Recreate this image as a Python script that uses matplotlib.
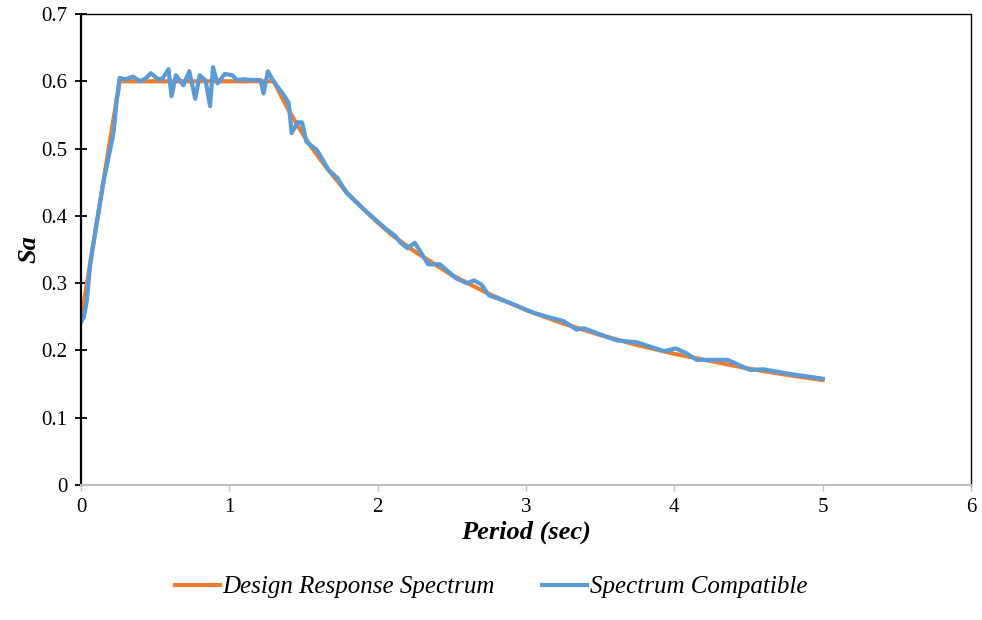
import matplotlib
matplotlib.use("Agg")
import matplotlib.pyplot as plt

plt.rcParams['font.family'] = ['Liberation Serif', 'DejaVu Serif']

# design response spectrum
design_T = [0.0, 0.26, 1.30, 1.35, 1.40, 1.45, 1.50, 1.55, 1.60, 1.65, 1.75, 1.80, 1.90,
            2.00, 2.10, 2.20, 2.25, 2.50, 2.75, 3.00, 3.25, 3.50, 3.75, 4.00, 4.25,
            4.50, 4.75, 5.00]
design_Sa = [0.245, 0.600, 0.600, 0.578, 0.557, 0.538, 0.520, 0.503, 0.488, 0.473, 0.446,
             0.433, 0.411, 0.390, 0.371, 0.355, 0.347, 0.312, 0.284, 0.260, 0.240, 0.223,
             0.208, 0.195, 0.184, 0.173, 0.164, 0.156]

# spectrum compatible record
compat_T = [0.0, 0.02, 0.04, 0.06, 0.08, 0.15, 0.21, 0.22, 0.23, 0.24, 0.25, 0.26, 0.30,
            0.35, 0.40, 0.44, 0.47, 0.52, 0.55, 0.59, 0.61, 0.64, 0.69, 0.73, 0.77, 0.80,
            0.84, 0.87, 0.89, 0.92, 0.97, 1.02, 1.05, 1.10, 1.15, 1.21, 1.23, 1.26, 1.30,
            1.36, 1.40, 1.42, 1.46, 1.49, 1.52, 1.59, 1.67, 1.73, 1.79, 1.93, 2.06, 2.12,
            2.15, 2.20, 2.25, 2.29, 2.34, 2.42, 2.53, 2.60, 2.65, 2.70, 2.75, 2.90, 3.05,
            3.16, 3.25, 3.34, 3.39, 3.50, 3.61, 3.75, 3.93, 4.01, 4.08, 4.15, 4.36, 4.44,
            4.51, 4.60, 4.78, 5.00]
compat_Sa = [0.242, 0.250, 0.275, 0.324, 0.354, 0.449, 0.513, 0.525, 0.547, 0.572, 0.584,
             0.605, 0.603, 0.607, 0.600, 0.605, 0.612, 0.603, 0.604, 0.618, 0.578, 0.609,
             0.594, 0.615, 0.574, 0.609, 0.601, 0.563, 0.621, 0.597, 0.611, 0.609, 0.602,
             0.603, 0.602, 0.602, 0.582, 0.615, 0.599, 0.582, 0.568, 0.523, 0.539, 0.539,
             0.510, 0.498, 0.468, 0.456, 0.434, 0.405, 0.380, 0.370, 0.361, 0.352, 0.360,
             0.346, 0.328, 0.328, 0.307, 0.300, 0.304, 0.298, 0.282, 0.270, 0.256, 0.249,
             0.244, 0.231, 0.233, 0.224, 0.215, 0.212, 0.199, 0.203, 0.196, 0.186, 0.186,
             0.178, 0.171, 0.172, 0.165, 0.158]

fig = plt.figure(figsize=(9.82, 6.2), dpi=100)
ax = fig.add_axes([0.0825, 0.2177, 0.9063, 0.7597])

ax.plot(design_T, design_Sa, color='#ED7D31', lw=3.0, label='Design Response Spectrum')
ax.plot(compat_T, compat_Sa, color='#5B9BD5', lw=3.0, label='Spectrum Compatible')

ax.set_xlim(0, 6)
ax.set_ylim(0, 0.7)
ax.set_xticks(range(0, 7))
ax.set_yticks([0, 0.1, 0.2, 0.3, 0.4, 0.5, 0.6, 0.7])
ax.set_yticklabels(['0', '0.1', '0.2', '0.3', '0.4', '0.5', '0.6', '0.7'])

for s in ['top', 'right']:
    ax.spines[s].set_color('black')
    ax.spines[s].set_linewidth(1.0)
ax.spines['left'].set_color('black')
ax.spines['left'].set_linewidth(1.6)
ax.spines['bottom'].set_color('#BFBFBF')
ax.spines['bottom'].set_linewidth(1.6)

ax.tick_params(axis='y', direction='inout', length=8, width=1.3, color='black',
               labelsize=15, pad=6)
ax.tick_params(axis='x', direction='out', length=4, width=1.0, color='#BFBFBF',
               labelsize=15, pad=5)

ax.set_xlabel('Period (sec)', fontsize=19, fontweight='bold', fontstyle='italic')
ax.set_ylabel('Sa', fontsize=19, fontweight='bold', fontstyle='italic')
ax.xaxis.set_label_coords(0.5, -0.076)
ax.yaxis.set_label_coords(-0.045, 0.5)

fig.legend(loc='center', bbox_to_anchor=(0.5, 0.053), ncol=2, frameon=False,
           prop={'size': 18, 'style': 'italic'}, handlelength=1.8, handletextpad=0.1,
           columnspacing=1.9)

fig.savefig('out.png', dpi=100)
